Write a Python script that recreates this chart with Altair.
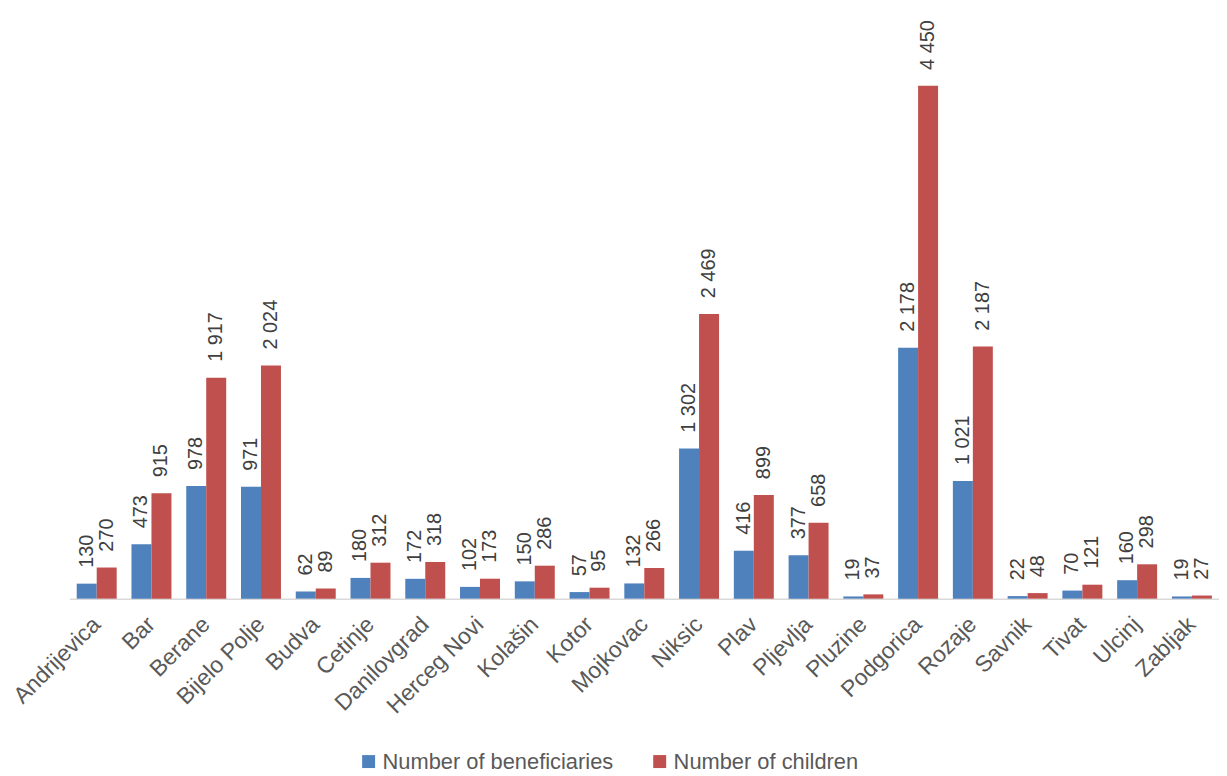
import altair as alt
import pandas as pd

cities = ["Andrijevica", "Bar", "Berane", "Bijelo Polje", "Budva", "Cetinje", "Danilovgrad",
          "Herceg Novi", "Kolašin", "Kotor", "Mojkovac", "Niksic", "Plav", "Pljevlja", "Pluzine",
          "Podgorica", "Rozaje", "Savnik", "Tivat", "Ulcinj", "Zabljak"]
beneficiaries = [130, 473, 978, 971, 62, 180, 172, 102, 150, 57, 132, 1302, 416, 377, 19,
                 2178, 1021, 22, 70, 160, 19]
children = [270, 915, 1917, 2024, 89, 312, 318, 173, 286, 95, 266, 2469, 899, 658, 37,
            4450, 2187, 48, 121, 298, 27]
series = ["Number of beneficiaries", "Number of children"]
colors = ["#4F81BD", "#C0504D"]

rows = []
for c, b, k in zip(cities, beneficiaries, children):
    for s, v in zip(series, [b, k]):
        rows.append({"city": c, "series": s, "value": v,
                     "label": f"{v:,}".replace(",", " ")})
df = pd.DataFrame(rows)

FONT = "Liberation Sans"

x = alt.X("city:N", sort=cities, title=None,
          scale=alt.Scale(paddingInner=0.27, paddingOuter=0.13),
          axis=alt.Axis(labelAngle=-45, labelAlign="right", labelBaseline="middle",
                        labelFontSize=23, labelColor="#595959", labelFont=FONT,
                        labelPadding=22, ticks=False, domainColor="#D9D9D9",
                        domainWidth=1.5, labelLimit=300))
y = alt.Y("value:Q", scale=alt.Scale(domain=[0, 5000]), axis=None)
xo = alt.XOffset("series:N", sort=series)

bars = alt.Chart(df).mark_bar().encode(
    x=x, y=y, xOffset=xo,
    color=alt.Color("series:N", sort=series,
                    scale=alt.Scale(domain=series, range=colors),
                    legend=alt.Legend(title=None, orient="none", legendX=290, legendY=733,
                                      direction="horizontal", columns=2,
                                      symbolType="square", symbolSize=170,
                                      symbolStrokeWidth=0,
                                      labelFontSize=22, labelColor="#595959",
                                      labelFont=FONT, columnPadding=35,
                                      labelOffset=3, labelLimit=400))
)

text = alt.Chart(df).mark_text(angle=270, align="left", baseline="middle", dx=16,
                               fontSize=20, color="#404040", font=FONT).encode(
    x=x, y=y, xOffset=xo, text="label:N"
)

chart = (bars + text).properties(
    width=1157, height=580,
    autosize=alt.AutoSizeParams(type="none"),
    padding={"left": 62, "top": 12, "right": 0, "bottom": 178}
).configure_view(strokeWidth=0, stroke=None)

chart.save("out.html", embed_options={"renderer": "svg", "actions": False})
